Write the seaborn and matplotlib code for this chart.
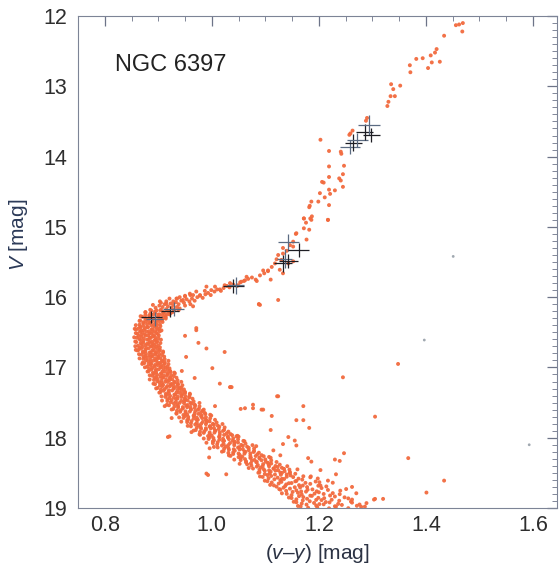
import numpy as np
import pandas as pd
import matplotlib
matplotlib.use("Agg")
import matplotlib.pyplot as plt
from matplotlib.ticker import MultipleLocator
import seaborn as sns

sns.set_theme(style="white")
plt.rcParams["font.family"] = ["Liberation Sans", "DejaVu Sans"]
plt.rcParams["mathtext.fontset"] = "custom"
plt.rcParams["mathtext.it"] = "Liberation Sans:italic"
plt.rcParams["mathtext.rm"] = "Liberation Sans"

# ---------------- data ----------------
# main sequence band: (V, [colours (v-y)])
ms_rows = [
    (16.20, [0.876, 0.887, 0.894, 0.904, 0.910, 0.919, 0.928, 0.938]),
    (16.23, [0.876, 0.885, 0.894, 0.902, 0.909, 0.916, 0.924]),
    (16.26, [0.867, 0.876, 0.883, 0.891, 0.901, 0.908, 0.913, 0.921]),
    (16.29, [0.870, 0.876, 0.884, 0.891, 0.899, 0.908, 0.914]),
    (16.32, [0.866, 0.876, 0.881, 0.891, 0.897, 0.902, 0.907, 0.914]),
    (16.35, [0.865, 0.872, 0.877, 0.884, 0.889, 0.895, 0.902, 0.908]),
    (16.38, [0.865, 0.872, 0.879, 0.885, 0.891, 0.896, 0.903]),
    (16.41, [0.858, 0.866, 0.872, 0.879, 0.887, 0.893, 0.897, 0.904]),
    (16.44, [0.862, 0.867, 0.875, 0.881, 0.888, 0.897, 0.902]),
    (16.47, [0.858, 0.868, 0.873, 0.883, 0.889, 0.894, 0.899, 0.906]),
    (16.50, [0.858, 0.866, 0.871, 0.878, 0.883, 0.889, 0.896, 0.903]),
    (16.53, [0.861, 0.868, 0.875, 0.881, 0.887, 0.892, 0.899]),
    (16.56, [0.855, 0.863, 0.869, 0.876, 0.884, 0.890, 0.894, 0.901]),
    (16.59, [0.860, 0.865, 0.873, 0.879, 0.886, 0.895, 0.900]),
    (16.62, [0.857, 0.867, 0.872, 0.882, 0.888, 0.893, 0.898, 0.905]),
    (16.65, [0.859, 0.867, 0.872, 0.879, 0.884, 0.890, 0.897, 0.904]),
    (16.68, [0.862, 0.869, 0.876, 0.882, 0.888, 0.893, 0.900]),
    (16.71, [0.857, 0.865, 0.871, 0.878, 0.886, 0.892, 0.896, 0.903]),
    (16.74, [0.863, 0.868, 0.876, 0.882, 0.889, 0.898, 0.903]),
    (16.77, [0.861, 0.871, 0.876, 0.886, 0.892, 0.897, 0.902, 0.909]),
    (16.80, [0.864, 0.872, 0.877, 0.884, 0.889, 0.895, 0.902, 0.909]),
    (16.83, [0.869, 0.876, 0.883, 0.889, 0.895, 0.900, 0.907]),
    (16.86, [0.865, 0.873, 0.879, 0.886, 0.894, 0.900, 0.904, 0.911]),
    (16.89, [0.872, 0.877, 0.885, 0.891, 0.898, 0.907, 0.912]),
    (16.92, [0.871, 0.881, 0.886, 0.896, 0.902, 0.907, 0.912, 0.919]),
    (16.95, [0.874, 0.882, 0.887, 0.894, 0.899, 0.905, 0.912, 0.919]),
    (16.98, [0.879, 0.886, 0.893, 0.899, 0.905, 0.910, 0.917]),
    (17.01, [0.875, 0.883, 0.889, 0.896, 0.904, 0.910, 0.914, 0.921]),
    (17.04, [0.882, 0.887, 0.895, 0.901, 0.908, 0.917, 0.922]),
    (17.07, [0.880, 0.890, 0.896, 0.906, 0.912, 0.918, 0.923, 0.930]),
    (17.10, [0.884, 0.892, 0.898, 0.905, 0.910, 0.917, 0.924, 0.931]),
    (17.13, [0.889, 0.896, 0.904, 0.910, 0.916, 0.922, 0.929]),
    (17.16, [0.884, 0.893, 0.899, 0.907, 0.915, 0.922, 0.926, 0.934]),
    (17.19, [0.892, 0.898, 0.906, 0.913, 0.921, 0.930, 0.936]),
    (17.22, [0.891, 0.902, 0.907, 0.918, 0.925, 0.930, 0.936, 0.943]),
    (17.25, [0.894, 0.903, 0.909, 0.917, 0.923, 0.929, 0.937, 0.945]),
    (17.28, [0.899, 0.907, 0.915, 0.922, 0.929, 0.935, 0.943]),
    (17.31, [0.896, 0.905, 0.912, 0.920, 0.929, 0.936, 0.940, 0.948]),
    (17.34, [0.904, 0.910, 0.919, 0.926, 0.934, 0.944, 0.950]),
    (17.37, [0.902, 0.914, 0.920, 0.932, 0.939, 0.945, 0.950, 0.959]),
    (17.40, [0.906, 0.916, 0.922, 0.930, 0.936, 0.943, 0.951, 0.959]),
    (17.43, [0.913, 0.921, 0.929, 0.936, 0.943, 0.949, 0.958]),
    (17.46, [0.907, 0.917, 0.925, 0.933, 0.943, 0.951, 0.955, 0.964]),
    (17.49, [0.917, 0.923, 0.933, 0.940, 0.949, 0.960, 0.966]),
    (17.52, [0.916, 0.929, 0.935, 0.948, 0.955, 0.962, 0.968, 0.977]),
    (17.55, [0.920, 0.930, 0.937, 0.946, 0.952, 0.960, 0.969, 0.977]),
    (17.58, [0.928, 0.937, 0.946, 0.954, 0.961, 0.968, 0.976]),
    (17.61, [0.925, 0.935, 0.942, 0.951, 0.961, 0.969, 0.974, 0.983]),
    (17.64, [0.934, 0.941, 0.951, 0.959, 0.968, 0.980, 0.987]),
    (17.67, [0.934, 0.947, 0.954, 0.967, 0.975, 0.981, 0.988, 0.997]),
    (17.70, [0.939, 0.950, 0.956, 0.966, 0.972, 0.980, 0.989, 0.999]),
    (17.73, [0.947, 0.956, 0.966, 0.974, 0.982, 0.988, 0.997]),
    (17.76, [0.943, 0.954, 0.962, 0.972, 0.983, 0.991, 0.996, 1.006]),
    (17.79, [0.954, 0.961, 0.972, 0.980, 0.990, 1.002, 1.009]),
    (17.82, [0.955, 0.969, 0.975, 0.989, 0.997, 1.004, 1.011, 1.020]),
    (17.85, [0.961, 0.972, 0.979, 0.989, 0.996, 1.004, 1.014, 1.024]),
    (17.88, [0.970, 0.980, 0.989, 0.998, 1.006, 1.013, 1.023]),
    (17.91, [0.966, 0.978, 0.986, 0.996, 1.007, 1.015, 1.021, 1.031]),
    (17.94, [0.977, 0.985, 0.996, 1.005, 1.015, 1.028, 1.035]),
    (17.97, [0.978, 0.993, 1.000, 1.014, 1.023, 1.030, 1.038, 1.048]),
    (18.00, [0.985, 0.996, 1.003, 1.014, 1.021, 1.030, 1.040, 1.050]),
    (18.03, [0.994, 1.004, 1.014, 1.023, 1.032, 1.039, 1.049]),
    (18.06, [0.990, 1.002, 1.011, 1.021, 1.034, 1.043, 1.049, 1.059]),
    (18.09, [1.002, 1.010, 1.022, 1.031, 1.042, 1.055, 1.063]),
    (18.12, [1.004, 1.019, 1.026, 1.042, 1.051, 1.058, 1.066, 1.076]),
    (18.15, [1.011, 1.023, 1.031, 1.041, 1.049, 1.058, 1.069, 1.079]),
    (18.18, [1.022, 1.032, 1.043, 1.052, 1.061, 1.069, 1.079]),
    (18.21, [1.019, 1.031, 1.040, 1.050, 1.063, 1.072, 1.078, 1.088]),
    (18.24, [1.032, 1.040, 1.052, 1.061, 1.072, 1.085, 1.093]),
    (18.27, [1.035, 1.050, 1.057, 1.073, 1.082, 1.089, 1.097, 1.107]),
    (18.30, [1.042, 1.054, 1.062, 1.072, 1.080, 1.089, 1.100, 1.110]),
    (18.33, [1.054, 1.064, 1.075, 1.084, 1.093, 1.101, 1.111]),
    (18.36, [1.052, 1.064, 1.073, 1.083, 1.096, 1.105, 1.111, 1.121]),
    (18.39, [1.066, 1.074, 1.086, 1.095, 1.106, 1.119, 1.127]),
    (18.42, [1.069, 1.084, 1.091, 1.107, 1.116, 1.123, 1.131, 1.141]),
    (18.45, [1.077, 1.089, 1.097, 1.107, 1.115, 1.124, 1.135, 1.145]),
    (18.48, [1.089, 1.099, 1.110, 1.119, 1.128, 1.136, 1.146]),
    (18.51, [1.087, 1.099, 1.108, 1.118, 1.131, 1.140, 1.146, 1.156]),
    (18.54, [1.090, 1.104, 1.111, 1.129, 1.140, 1.147, 1.171]),
    (18.57, [1.095, 1.106, 1.123, 1.131, 1.152, 1.162, 1.184]),
    (18.60, [1.099, 1.117, 1.128, 1.135, 1.158, 1.169]),
    (18.63, [1.104, 1.112, 1.130, 1.149, 1.156, 1.175, 1.194, 1.201]),
    (18.66, [1.109, 1.125, 1.139, 1.144, 1.163, 1.184]),
    (18.69, [1.116, 1.121, 1.137, 1.155, 1.170, 1.178, 1.199, 1.214]),
    (18.72, [1.126, 1.134, 1.146, 1.165, 1.188, 1.205]),
    (18.75, [1.128, 1.139, 1.158, 1.167, 1.179, 1.196, 1.217, 1.240]),
    (18.78, [1.131, 1.151, 1.161, 1.176, 1.192, 1.200, 1.226]),
    (18.81, [1.140, 1.149, 1.168, 1.184, 1.209, 1.221, 1.239]),
    (18.84, [1.144, 1.163, 1.171, 1.187, 1.199, 1.230, 1.248]),
    (18.87, [1.149, 1.158, 1.178, 1.195, 1.210, 1.224, 1.255]),
    (18.90, [1.153, 1.170, 1.183, 1.205, 1.213, 1.238, 1.260]),
    (18.93, [1.158, 1.168, 1.191, 1.201, 1.220, 1.236, 1.262]),
    (18.96, [1.161, 1.177, 1.195, 1.209, 1.230, 1.243, 1.271]),
    (18.99, [1.166, 1.180, 1.197, 1.219, 1.232, 1.255, 1.279]),
]
# small magnitude offsets of the n-th star in even / odd rows (scatter within a row)
ms_dV_even = [0.011, -0.009, 0.004, -0.013, 0.015, -0.004, 0.008, -0.015]
ms_dV_odd = [-0.012, 0.006, -0.002, 0.014, -0.010, 0.012, -0.007, 0.003]

# subgiant branch
sgb_x = [0.895, 0.902, 0.908, 0.912, 0.918, 0.923, 0.928, 0.933, 0.938, 0.943, 0.948, 0.953,
         0.958, 0.963, 0.968, 0.973, 0.978, 0.983, 0.988, 0.993, 0.998, 1.005, 1.010, 1.017,
         1.022, 1.028, 1.033, 1.040, 1.047, 1.053, 1.060, 1.068, 1.075, 1.082, 1.090, 1.098,
         1.105, 0.897, 0.905, 0.915, 0.925, 0.935, 0.905, 0.915, 0.920, 0.930, 0.940, 0.950,
         0.960, 0.965, 0.910, 0.900, 0.885, 0.890, 0.950, 0.960, 0.935,
         0.903, 0.915, 0.921, 0.928, 0.934, 0.940, 0.946, 0.950, 0.959, 0.965, 0.971, 0.978,
         0.987, 0.990, 0.999, 1.006, 1.015, 1.024, 1.034, 1.049, 1.055, 1.062, 1.065, 1.084,
         1.096, 1.105, 1.110, 1.112, 1.118, 1.121, 1.124, 1.127, 1.143, 1.152]
sgb_V = [16.15, 16.12, 16.14, 16.10, 16.13, 16.09, 16.11, 16.07, 16.10, 16.05, 16.08, 16.03,
         16.06, 16.02, 16.05, 16.00, 15.98, 16.01, 15.96, 15.94, 15.97, 15.92, 15.89, 15.91,
         15.87, 15.84, 15.86, 15.82, 15.84, 15.79, 15.77, 15.74, 15.72, 15.75, 15.69, 15.66,
         15.63, 16.19, 16.18, 16.17, 16.15, 16.14, 16.08, 16.06, 16.20, 16.18, 16.16, 16.12,
         16.10, 16.13, 16.22, 16.25, 16.18, 16.11, 15.99, 15.97, 16.02,
         16.06, 16.09, 16.02, 16.06, 16.02, 16.00, 16.04, 15.98, 15.95, 15.97, 15.92, 15.97,
         15.91, 15.85, 15.90, 15.85, 15.89, 15.83, 15.80, 15.83, 15.78, 15.76, 15.71, 15.77,
         15.62, 15.62, 15.75, 15.57, 15.52, 15.46, 15.40, 15.61, 15.52, 15.49]

# red giant branch
rgb_x = [1.130, 1.133, 1.133, 1.140, 1.152, 1.146, 1.133, 1.177, 1.158, 1.182, 1.172, 1.186,
         1.172, 1.176, 1.172, 1.184, 1.187, 1.217, 1.199, 1.182, 1.183, 1.186, 1.219, 1.221,
         1.211, 1.202, 1.245, 1.230, 1.219, 1.219, 1.241, 1.238, 1.245, 1.209, 1.206, 1.219,
         1.247, 1.242, 1.241, 1.219, 1.203, 1.257, 1.259, 1.263, 1.288, 1.290, 1.157, 1.152,
         1.328, 1.330, 1.334, 1.342, 1.339, 1.335, 1.352, 1.404, 1.426, 1.411, 1.371, 1.370,
         1.382, 1.394, 1.409, 1.417, 1.420, 1.434, 1.468, 1.469, 1.462, 1.456]
rgb_V = [15.47, 15.66, 15.38, 15.34, 15.28, 15.26, 15.30, 15.18, 15.09, 15.04, 15.02, 14.90,
         14.88, 14.94, 14.88, 14.88, 14.85, 14.90, 14.64, 14.72, 14.70, 14.64, 14.69, 14.53,
         14.58, 14.52, 14.43, 14.48, 14.47, 14.29, 14.34, 14.31, 14.25, 14.37, 14.36, 14.14,
         14.13, 13.96, 13.93, 13.92, 13.76, 13.69, 13.67, 13.63, 13.49, 13.45, 15.10, 15.21,
         13.28, 13.22, 13.14, 13.14, 13.04, 12.97, 12.99, 12.74, 12.65, 12.66, 12.80, 12.70,
         12.61, 12.60, 12.56, 12.52, 12.47, 12.28, 12.22, 12.10, 12.12, 12.13]

# scattered field stars / binaries
field_x = [1.090, 0.971, 1.024, 1.034, 1.077, 1.062, 0.996, 0.993, 0.921, 0.940, 0.995, 0.990,
           1.027, 0.918, 0.962, 1.124, 1.035, 1.015, 1.054, 1.077, 1.093, 0.925, 1.122, 1.096,
           1.112, 1.171, 1.158, 1.171, 1.182, 1.110, 1.305, 1.143, 1.133, 1.155, 1.158, 1.115,
           1.247, 1.230, 1.239, 1.180, 1.186, 1.203, 1.217, 1.270, 1.305, 1.320, 1.289, 1.348,
           1.245, 1.367, 1.434, 1.401, 1.303, 1.088, 0.990, 1.001, 1.037, 1.124, 1.088, 0.971,
           1.217, 0.944, 0.952, 0.958, 0.968, 0.985, 1.006, 1.046, 1.061, 1.083, 1.128, 1.160,
           1.185, 1.203, 1.262, 1.276, 0.975, 0.950, 0.912, 0.870, 0.858, 0.856,
           1.198, 1.226, 1.251, 1.286, 1.232, 1.262]
field_V = [16.11, 16.47, 16.78, 17.28, 17.58, 17.58, 18.15, 18.53, 17.98, 17.29, 18.28, 18.51,
           18.52, 17.99, 17.92, 17.41, 17.28, 17.23, 17.59, 17.53, 17.60, 17.72, 17.41, 17.60,
           17.69, 17.55, 17.75, 17.75, 17.86, 17.89, 17.70, 17.99, 18.09, 18.04, 18.11, 18.18,
           18.22, 18.31, 18.33, 18.29, 18.34, 18.46, 18.61, 18.79, 18.87, 18.87, 18.93, 16.95,
           17.14, 18.29, 18.61, 18.78, 18.88, 16.10, 16.73, 17.01, 17.28, 16.04, 16.10, 16.44,
           14.90, 17.05, 16.85, 17.42, 17.15, 17.60, 17.55, 17.98, 18.05, 18.12, 18.25, 18.45,
           18.55, 18.68, 18.70, 18.95, 16.65, 16.55, 17.55, 16.95, 16.75, 16.45,
           18.58, 18.64, 18.73, 18.98, 18.52, 18.88]

# faint grey specks
grey_x = [1.451, 1.593, 1.397]
grey_V = [15.42, 18.10, 16.61]

# measured stars with error bars
cross_x = [0.887, 0.893, 0.922, 0.929, 1.040, 1.045, 1.133, 1.136, 1.143, 1.143, 1.162,
           1.258, 1.264, 1.272, 1.286, 1.294, 1.298]
cross_V = [16.28, 16.31, 16.20, 16.17, 15.84, 15.83, 15.52, 15.45, 15.49, 15.22, 15.33,
           13.86, 13.80, 13.76, 13.65, 13.55, 13.69]
cross_xerr = [0.02, 0.015, 0.016, 0.02, 0.02, 0.016, 0.016, 0.014, 0.018, 0.02, 0.02,
              0.018, 0.016, 0.02, 0.016, 0.02, 0.016]
cross_Verr = [0.09, 0.1, 0.08, 0.1, 0.1, 0.12, 0.12, 0.14, 0.1, 0.12, 0.1,
              0.1, 0.12, 0.1, 0.12, 0.14, 0.1]

x_ticks = [0.8, 1.0, 1.2, 1.4, 1.6]
y_ticks = [12, 13, 14, 15, 16, 17, 18, 19]

# ---------------- build table ----------------
ms_x, ms_V = [], []
for r, (v, xs) in enumerate(ms_rows):
    dv = ms_dV_even if r % 2 == 0 else ms_dV_odd
    for k, x in enumerate(xs):
        ms_x.append(x)
        ms_V.append(v + dv[k])
stars = pd.DataFrame({
    "vy": ms_x + sgb_x + rgb_x + field_x,
    "V": ms_V + sgb_V + rgb_V + field_V,
})

# ---------------- figure ----------------
fig = plt.figure(figsize=(5.59, 5.73), dpi=100)
ax = fig.add_axes([0.1395, 0.1134, 0.857, 0.8586])

sns.scatterplot(data=stars, x="vy", y="V", s=8, color="#f26a3e", edgecolor="none",
                linewidth=0, alpha=0.95, ax=ax, legend=False, zorder=2)
sns.scatterplot(x=grey_x, y=grey_V, s=4, color="#a0a8b0", edgecolor="none",
                linewidth=0, ax=ax, legend=False, zorder=2)

cols = ["#1e1e24", "#5b6b82"]
for i in range(len(cross_x)):
    ax.errorbar(cross_x[i], cross_V[i], xerr=cross_xerr[i], yerr=cross_Verr[i],
                fmt="none", ecolor=cols[i % 2], elinewidth=0.9, capsize=0, zorder=3)

ax.set_xlim(0.75, 1.645)
ax.set_ylim(19, 12)
ax.set_xticks(x_ticks)
ax.set_yticks(y_ticks)
ax.set_xticklabels([f"{t:.1f}" for t in x_ticks])
ax.set_yticklabels([str(t) for t in y_ticks])
ax.xaxis.set_minor_locator(MultipleLocator(0.05))
ax.yaxis.set_minor_locator(MultipleLocator(0.1))

ax.tick_params(which="both", direction="in", top=True, right=True,
               color="#6d7488", labelcolor="#2e2e2e", labelsize=15.5)
ax.tick_params(which="major", length=7, width=0.9)
ax.tick_params(which="minor", length=3.5, width=0.6)
ax.tick_params(axis="x", pad=5)
ax.tick_params(axis="y", pad=8)

for sp in ax.spines.values():
    sp.set_color("#7d8496")
    sp.set_linewidth(0.8)

ax.set_xlabel(r"($v$–$y$) [mag]", fontsize=15, color="#2c3344", labelpad=4)
ax.set_ylabel(r"$V$ [mag]", fontsize=15, color="#2c3a58")
ax.yaxis.set_label_coords(-0.1, 0.555)

ax.text(0.819, 12.70, "NGC 6397", fontsize=17, color="#222222", ha="left", va="center")

fig.savefig("out.png", dpi=100)
